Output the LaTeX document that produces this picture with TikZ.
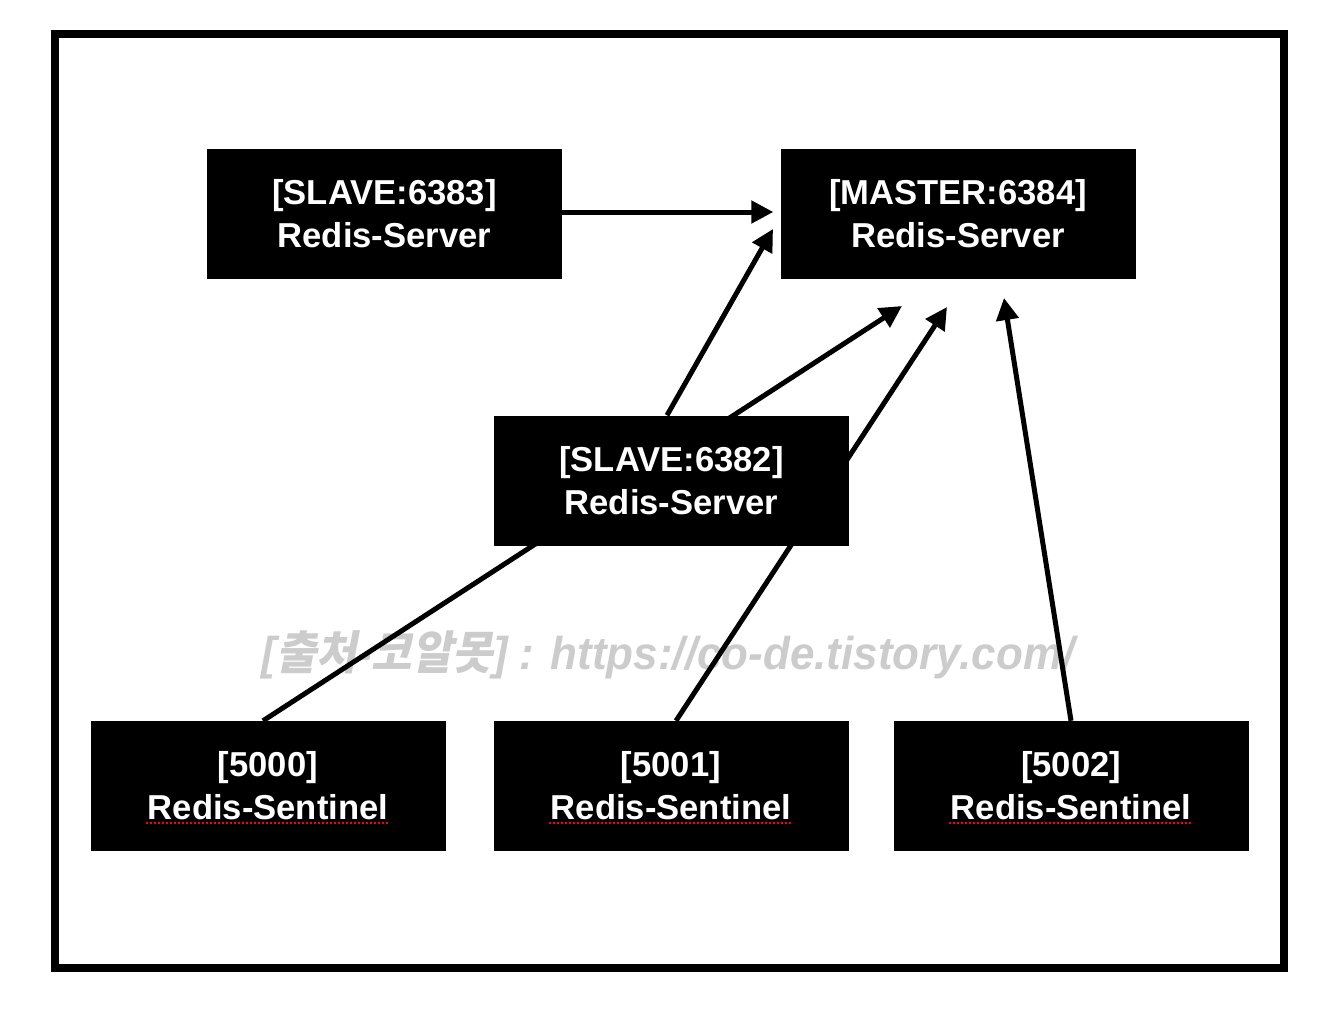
\documentclass[tikz,border=0pt]{standalone}
\usepackage{fontspec}
\setmainfont{Liberation Sans}
\newfontfamily\krfont[FakeSlant=0.2]{Noto Sans CJK KR}
\usetikzlibrary{arrows.meta,calc}
\tikzset{
  box/.style={fill=black, text=white, inner sep=0pt, minimum width=355pt, minimum height=130pt,
    align=center, font=\fontsize{34.6}{43}\selectfont\bfseries},
  arr/.style={line width=5pt, -{Triangle[length=22pt,width=22pt]}},
  spell/.style={red, line width=1.8pt, dash pattern=on 2pt off 2pt},
  wmark/.style={text=black!20, inner sep=0pt}
}
\begin{document}
\begin{tikzpicture}[x=1pt,y=-1pt]
\useasboundingbox (0,0) rectangle (1336,1018);
\draw[line width=8pt] (55,33.5) rectangle (1284,967.5);
% watermark
\node[wmark] (wm) at (668,655) {\resizebox{813pt}{\height}{\fontsize{46}{50}\selectfont\bfseries\itshape [{\krfont 출처}-{\krfont 코알못}] : https://co-de.tistory.com/}};
% sentinel nodes
\node[box] (t5000) at (268,786) {[5000]\\Redis-Sentinel};
\node[box] (t5001) at (671,786) {[5001]\\Redis-Sentinel};
\node[box] (t5002) at (1071,786) {[5002]\\Redis-Sentinel};
\coordinate (m1) at (902,306);
\coordinate (m2) at (947,307);
\coordinate (m3) at (1004,298);
\coordinate (m4) at (773,229);
% lines passing behind the 6382 box
\draw[arr] ($(t5000.north)+(-5,0)$) -- (m1);
\draw[arr] ($(t5001.north)+(5,0)$) -- (m2);
% servers
\node[box] (s6383) at (384.5,213.5) {[SLAVE:6383]\\Redis-Server};
\node[box] (master) at (958,214) {[MASTER:6384]\\Redis-Server};
\node[box] (s6382) at (671.5,480.5) {[SLAVE:6382]\\Redis-Server};
\draw[arr] ($(s6383.east)+(0,-1.5)$) -- ($(master.west)+(-7,-2)$);
\draw[arr] ($(s6382.north)+(-4.5,0)$) -- (m4);
\draw[arr] (t5002.north) -- (m3);
% spell-check underlines
\foreach \n in {t5000,t5001,t5002}{
  \draw[spell] ($(\n.center)+(-122,37)$) -- ($(\n.center)+(122,37)$);
}
\end{tikzpicture}
\end{document}
